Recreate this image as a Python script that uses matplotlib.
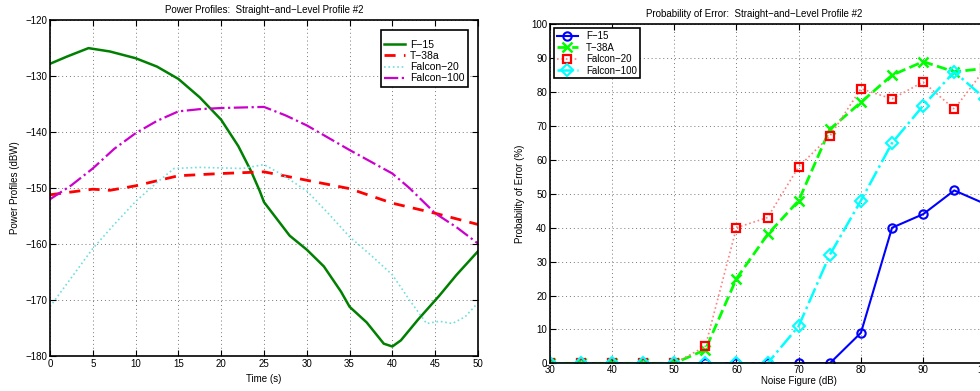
import numpy as np
import matplotlib
matplotlib.use("Agg")
import matplotlib.pyplot as plt
from matplotlib.lines import Line2D

plt.rcParams['font.family'] = ['Liberation Sans', 'DejaVu Sans']
plt.rcParams['font.size'] = 7

# power profiles (left)
t_f15 = [0, 2, 4.5, 7, 10, 12.5, 15, 17.5, 20, 22, 23.5, 24.5, 25, 26.5, 28, 30, 32, 34, 35, 37, 39, 40, 41, 43, 45.5, 47.5, 50]
p_f15 = [-127.8, -126.5, -125.0, -125.6, -126.8, -128.3, -130.5, -133.8, -137.8, -142.5, -147, -150.5, -152.5,
         -155.5, -158.5, -161, -164, -168.5, -171.2, -174, -177.8, -178.3, -177.2, -173.5, -169.2, -165.5, -161.3]
t_t38 = [0, 1, 5, 7, 10, 15, 20, 25, 30, 35, 40, 45, 50]
p_t38 = [-151.2, -151.0, -150.2, -150.4, -149.6, -147.8, -147.4, -147.1, -148.6, -150.1, -152.7, -154.5, -156.5]
t_f20 = [0, 2.5, 5, 7.5, 10, 12.5, 14.5, 17.5, 20, 22.5, 25, 27, 30, 32.5, 35, 37.5, 40, 42, 44, 45.5, 47, 48.5, 50]
p_f20 = [-171.2, -166, -160.8, -156.5, -152.4, -149, -146.5, -146.3, -146.4, -146.5, -145.8, -147.5, -150.5,
         -154.5, -158.7, -162, -165.5, -170, -174.2, -173.8, -174.2, -173, -170.5]
t_f100 = [0, 2.5, 5, 7.5, 10, 12.5, 15, 17.5, 20, 25, 27.5, 30, 32.5, 35, 37.5, 40, 42, 45, 47.5, 50]
p_f100 = [-152.0, -149.5, -146.5, -143, -140.2, -138, -136.3, -135.9, -135.7, -135.5, -137, -138.8, -141,
          -143.2, -145.3, -147.4, -150, -154.5, -157, -159.9]

# probability of error (right)
nf = [30, 35, 40, 45, 50, 55, 60, 65, 70, 75, 80, 85, 90, 95, 100]
pe_f15 = [0, 0, 0, 0, 0, 0, 0, 0, 0, 0, 9, 40, 44, 51, 47]
pe_t38 = [0, 0, 0, 0, 0, 4, 25, 38, 48, 69, 77, 85, 89, 86, 87]
pe_f20 = [0, 0, 0, 0, 0, 5, 40, 43, 58, 67, 81, 78, 83, 75, 87]
pe_f100 = [0, 0, 0, 0, 0, 0, 0, 0, 11, 32, 48, 65, 76, 86, 78]

fig = plt.figure(figsize=(9.8, 3.91), dpi=100)

ax1 = fig.add_axes([0.051, 0.0895, 0.4367, 0.859])
ax1.plot(t_f15, p_f15, '-', color='#008000', lw=1.8, label='F\u221215')
ax1.plot(t_t38, p_t38, '--', color='#ff0000', lw=2, dashes=(4, 3), label='T\u221238a')
ax1.plot(t_f20, p_f20, ':', color='#70dede', lw=1.2, label='Falcon\u221220')
ax1.plot(t_f100, p_f100, '-.', color='#cc00cc', lw=1.6, label='Falcon\u2212100')
ax1.set_xlim(0, 50)
ax1.set_ylim(-180, -120)
ax1.set_xticks(np.arange(0, 51, 5))
ax1.set_yticks(np.arange(-180, -119, 10))
ax1.set_xlabel('Time (s)')
ax1.set_ylabel('Power Profiles (dBW)')
ax1.set_title('Power Profiles:  Straight\u2212and\u2212Level Profile #2', fontsize=7, pad=5)
leg1 = ax1.legend(loc='upper right', fancybox=False, edgecolor='black', framealpha=1, fontsize=7.5,
                  handlelength=2.0, borderpad=0.35, labelspacing=0.1, handletextpad=0.5,
                  bbox_to_anchor=(0.99, 0.985), title=' ', title_fontsize=4)
leg1.get_frame().set_linewidth(1.2)

ax2 = fig.add_axes([0.561, 0.0708, 0.508, 0.867])
ax2.plot(nf, pe_f15, '-o', color='#0000ff', lw=1.5, ms=6, mfc='none', mew=1.5)
ax2.plot(nf, pe_t38, '--x', color='#00ff00', lw=2, ms=7, mew=1.8)
ax2.plot(nf, pe_f20, ':', color='#ff8080', lw=1.2)
ax2.plot(nf, pe_f20, 's', color='#ff0000', ms=5.5, mfc='none', mew=1.6)
ax2.plot(nf, pe_f100, '-.D', color='#00ffff', lw=1.8, ms=6, mfc='none', mew=1.5)
h = [Line2D([], [], ls='-', marker='o', color='#0000ff', lw=1.5, mfc='none', mew=1.5, ms=6),
     Line2D([], [], ls='--', marker='x', color='#00ff00', lw=2, mew=1.8, ms=7),
     Line2D([], [], ls=':', color='#ff8080', marker='s', mec='#ff0000', mfc='none', mew=1.6, ms=5.5, lw=1.2),
     Line2D([], [], ls='-.', marker='D', color='#00ffff', lw=1.8, mfc='none', mew=1.5, ms=6)]
ax2.set_xlim(30, 110)
ax2.set_ylim(0, 100)
ax2.set_xticks(np.arange(30, 111, 10))
ax2.set_yticks(np.arange(0, 101, 10))
ax2.set_xlabel('Noise Figure (dB)', labelpad=1)
ax2.set_ylabel('Probability of Error (%)')
ax2.set_title('Probability of Error:  Straight\u2212and\u2212Level Profile #2', fontsize=7, pad=5,
              x=0.41)
leg2 = ax2.legend(h, ['F\u221215', 'T\u221238A', 'Falcon\u221220', 'Falcon\u2212100'], loc='upper left',
                  fancybox=False, edgecolor='black', framealpha=1, handlelength=2.2,
                  borderpad=0.3, labelspacing=0.15, borderaxespad=0.4)
leg2.get_frame().set_linewidth(1.2)

for ax in (ax1, ax2):
    ax.grid(True, ls=(0, (1, 3)), color='#777777', lw=0.7)
    ax.tick_params(direction='in', top=True, right=True, length=4, pad=2)
    for s in ax.spines.values():
        s.set_linewidth(1.2)
ax2.tick_params(axis='x', pad=1)

fig.savefig('out.png', dpi=100)
